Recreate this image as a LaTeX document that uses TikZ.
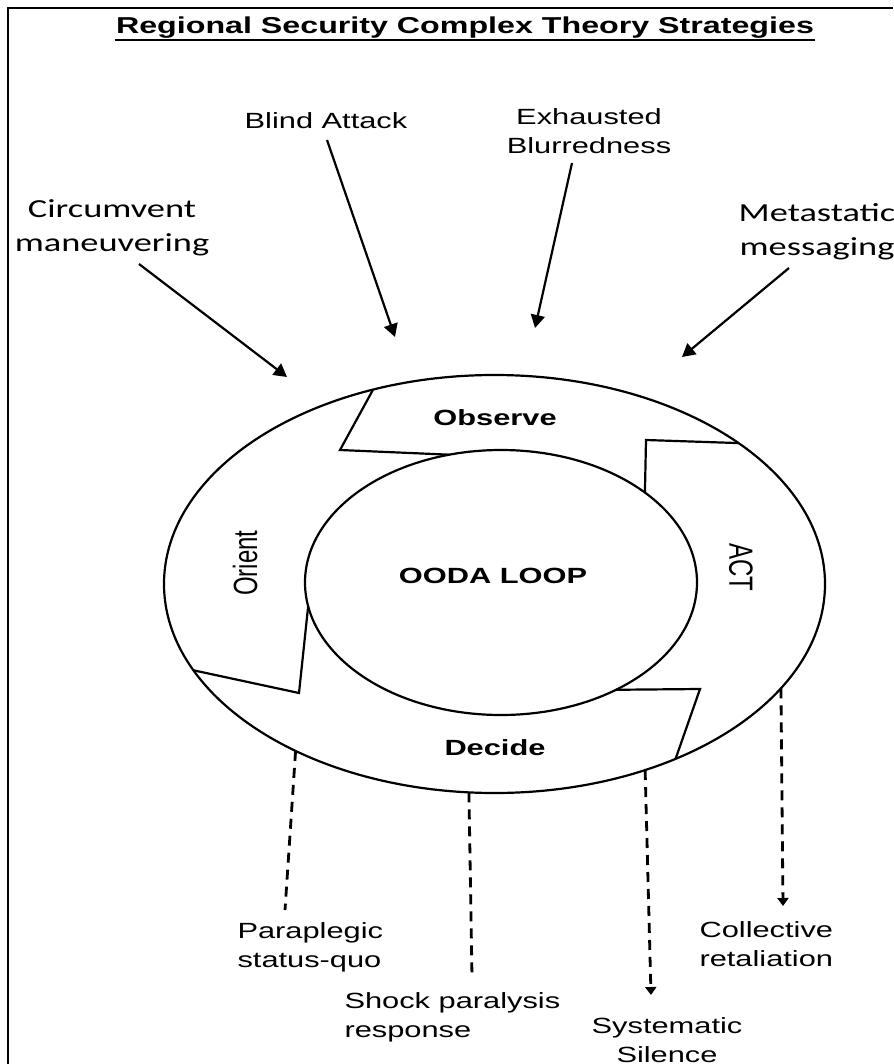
\documentclass[tikz,border=0pt]{standalone}
\usepackage{fontspec}
\setmainfont{Liberation Sans}
\newfontfamily\calfont{Carlito}
\usetikzlibrary{arrows.meta,shapes.geometric}

\tikzset{
  txt/.style={xscale=1.4, inner sep=0pt, font=\fontsize{22}{29}\selectfont},
  boldtxt/.style={txt, font=\fontsize{22}{29}\selectfont\bfseries},
  rottxt/.style={txt, font=\fontsize{24}{29}\selectfont},
  caltxt/.style={txt, font=\calfont\fontsize{26}{34}\selectfont},
  ring/.style={draw, ellipse, inner sep=0pt, outer sep=0pt},
  pfeil/.style={line width=2.2pt, -{Triangle[length=13pt,width=14pt]}},
  strich/.style={line width=2.8pt, dash pattern=on 10pt off 7pt},
  strichpfeil/.style={strich, -{Triangle[length=8pt,width=11pt]}}
}

\begin{document}
\begin{tikzpicture}[x=1pt,y=-1pt,line width=2.2pt]
  \useasboundingbox (0,0) rectangle (893,1064);
  % Rahmen
  \draw[line width=2.8pt] (8,1064) -- (8,8) -- (893,8);

  % Titel
  \node[boldtxt, anchor=north, font=\fontsize{23}{29}\selectfont\bfseries] (titel) at (465,16) {Regional Security Complex Theory Strategies};
  \draw[line width=1.8pt] (titel.south west) -- (titel.south east);

  % die beiden Ellipsen
  \node[ring, minimum width=661pt, minimum height=418pt] (aussen) at (494.5,584) {};
  \node[ring, minimum width=392pt, minimum height=265pt] (innen) at (501,582.5) {};

  % Spitzen der Ringpfeile
  \coordinate (spitzeO) at (340,450);
  \coordinate (spitzeOr) at (299,693);
  \coordinate (spitzeD) at (700,689);
  \coordinate (spitzeA) at (646,440);
  \draw (aussen.122.4) -- (spitzeO) -- (innen.112.6);
  \draw (aussen.196.3) -- (spitzeOr) -- (innen.187.6);
  \draw (innen.317.4) -- (spitzeD) -- (aussen.316.8);
  \draw (aussen.30.1) -- (spitzeA) -- (innen.32.9);

  \node[boldtxt] (observe) at (495,418) {Observe};
  \node[boldtxt] (ooda) at (493,576) {OODA LOOP};
  \node[boldtxt] (decide) at (495,748) {Decide};
  \node[rottxt, rotate=90] (orient) at (245,563) {Orient};
  \node[rottxt, rotate=-90] (act) at (741,567) {ACT};

  % Strategien oben
  \node[txt, anchor=north] (blind) at (326,111) {Blind Attack};
  \node[txt, anchor=north, align=center] (exh) at (589,107) {Exhausted\\Blurredness};
  \node[caltxt, anchor=north, align=center] (circ) at (112,199) {Circumvent\\maneuvering};
  \node[caltxt, anchor=north, align=center] (meta) at (817,202) {Metastatic\\messaging};

  \coordinate (blindA) at (327,140);
  \coordinate (blindB) at (395,337);
  \coordinate (exhA) at (572,163);
  \coordinate (exhB) at (535,328);
  \coordinate (circA) at (139,264);
  \coordinate (circB) at (287,377);
  \coordinate (metaA) at (789,268);
  \coordinate (metaB) at (682,357);
  \draw[pfeil] (blindA) -- (blindB);
  \draw[pfeil] (exhA) -- (exhB);
  \draw[pfeil] (circA) -- (circB);
  \draw[pfeil] (metaA) -- (metaB);

  % Strategien unten
  \coordinate (paraEnde) at (285,910);
  \coordinate (schockEnde) at (472,977);
  \coordinate (sysEnde) at (651,995);
  \coordinate (kollEnde) at (783,906);
  \draw[strich] (aussen.220.5) -- (paraEnde);
  \draw[strich] (aussen.263.9) -- (schockEnde);
  \draw[strichpfeil] (aussen.309.2) -- (sysEnde);
  \draw[strichpfeil] (aussen.340.5) -- (kollEnde);

  \node[txt, anchor=north west, align=left] (para) at (236,921) {Paraplegic\\status-quo};
  \node[txt, anchor=north west, align=left] (schock) at (343,991) {Shock paralysis\\response};
  \node[txt, anchor=north, align=center] (sys) at (667,1016) {Systematic\\Silence};
  \node[txt, anchor=north west, align=left] (koll) at (698,920) {Collective\\retaliation};
\end{tikzpicture}
\end{document}
